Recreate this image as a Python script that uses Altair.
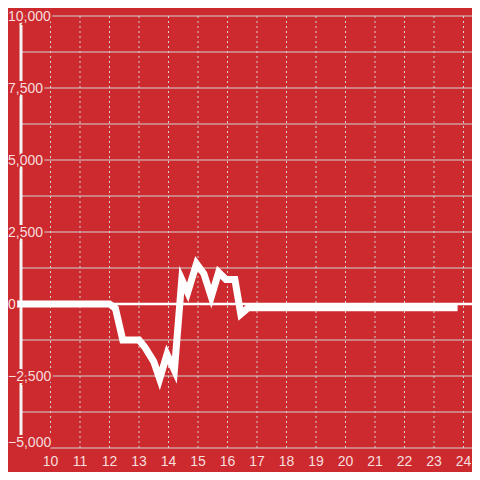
import altair as alt
import pandas as pd

# ---- data ----
line_x = [8.85, 12.0, 12.2, 12.45, 13.0, 13.2, 13.5, 13.7, 13.95, 14.2, 14.45, 14.65,
          14.95, 15.2, 15.45, 15.7, 15.95, 16.25, 16.45, 16.7, 23.8]
line_y = [0, 0, -150, -1250, -1250, -1500, -2000, -2600, -1750, -2300, 850, 400,
          1400, 1050, 250, 1100, 850, 850, -350, -130, -130]

y_ticks = [-5000, -2500, 0, 2500, 5000, 7500, 10000]
y_grid = [-3750, -2500, -1250, 0, 1250, 2500, 3750, 5000, 6250, 7500, 8750, 10000]
y_bottom = [-5000]
x_ticks = [10, 11, 12, 13, 14, 15, 16, 17, 18, 19, 20, 21, 22, 23, 24]

BG = "#cc2a2f"
LABEL = "#f7dede"
GRID = "#d4d4d4"
FONT = "Liberation Sans"
W, H = 451, 432
PX_PER_UNIT = 29.5

xs = alt.Scale(domain=[9, 9 + W / PX_PER_UNIT], nice=False, zero=False)
ys = alt.Scale(domain=[-5000, 10000], nice=False, zero=False)

df_line = pd.DataFrame({"x": line_x, "y": line_y})
df_yt = pd.DataFrame({"v": y_ticks})
df_yg = pd.DataFrame({"v": y_grid})
df_yb = pd.DataFrame({"v": y_bottom})
df_xt = pd.DataFrame({"v": x_ticks})

hgrid = alt.Chart(df_yg).mark_rule(color=GRID, strokeWidth=1).encode(
    y=alt.Y("v:Q", scale=ys, axis=None), x=alt.value(0), x2=alt.value(W))

bgrid = alt.Chart(df_yb).mark_rule(color=GRID, strokeWidth=1).encode(
    y=alt.Y("v:Q", scale=ys, axis=None), x=alt.value(29), x2=alt.value(W))

vgrid = alt.Chart(df_xt).mark_rule(color=GRID, strokeWidth=1, strokeDash=[2, 3]).encode(
    x=alt.X("v:Q", scale=xs, axis=None), y=alt.value(0), y2=alt.value(H))

zero = alt.Chart(pd.DataFrame({"v": [0]})).mark_rule(color="white", strokeWidth=2.5).encode(
    y=alt.Y("v:Q", scale=ys, axis=None), x=alt.value(0), x2=alt.value(W))

yaxis = alt.Chart(pd.DataFrame({"v": [-5000], "v2": [10000]})).mark_rule(
    color="#f4f4f4", strokeWidth=3).encode(
    y=alt.Y("v:Q", scale=ys, axis=None), y2="v2:Q", x=alt.value(0))

line = alt.Chart(df_line).mark_line(color="white", strokeWidth=7, strokeCap="butt",
                                    strokeJoin="miter").encode(
    x=alt.X("x:Q", scale=xs, axis=None), y=alt.Y("y:Q", scale=ys, axis=None))


def ylabels(halo, bottom):
    style = dict(fill=BG, stroke=BG, strokeWidth=4) if halo else dict(color=LABEL)
    base = alt.Chart(df_yt)
    if bottom:
        base = base.transform_filter("datum.v == -5000")
        mk = base.mark_text(align="left", baseline="alphabetic", dy=-1, fontSize=14,
                            font=FONT, **style)
    else:
        base = base.transform_filter("datum.v != -5000")
        mk = base.mark_text(align="left", baseline="middle", dy=1, fontSize=14,
                            font=FONT, **style)
    return mk.encode(
        y=alt.Y("v:Q", scale=ys, axis=None), x=alt.value(-13),
        text=alt.Text("v:Q", format=","))


xlab = alt.Chart(df_xt).mark_text(
    align="center", baseline="alphabetic", fontSize=14, font=FONT,
    color=LABEL).encode(
    x=alt.X("v:Q", scale=xs, axis=None), y=alt.value(H + 18),
    text=alt.Text("v:Q"))

chart = alt.layer(
    hgrid, bgrid, vgrid, zero, yaxis, line,
    ylabels(True, False), ylabels(True, True),
    ylabels(False, False), ylabels(False, True),
    xlab,
).properties(
    width=W, height=H, background=BG,
    padding={"left": 13, "top": 8, "right": 0, "bottom": 24},
    autosize=alt.AutoSizeParams(type="none"),
).configure_view(strokeWidth=0)

chart.save("out.html", embed_options={"renderer": "svg", "actions": False})
